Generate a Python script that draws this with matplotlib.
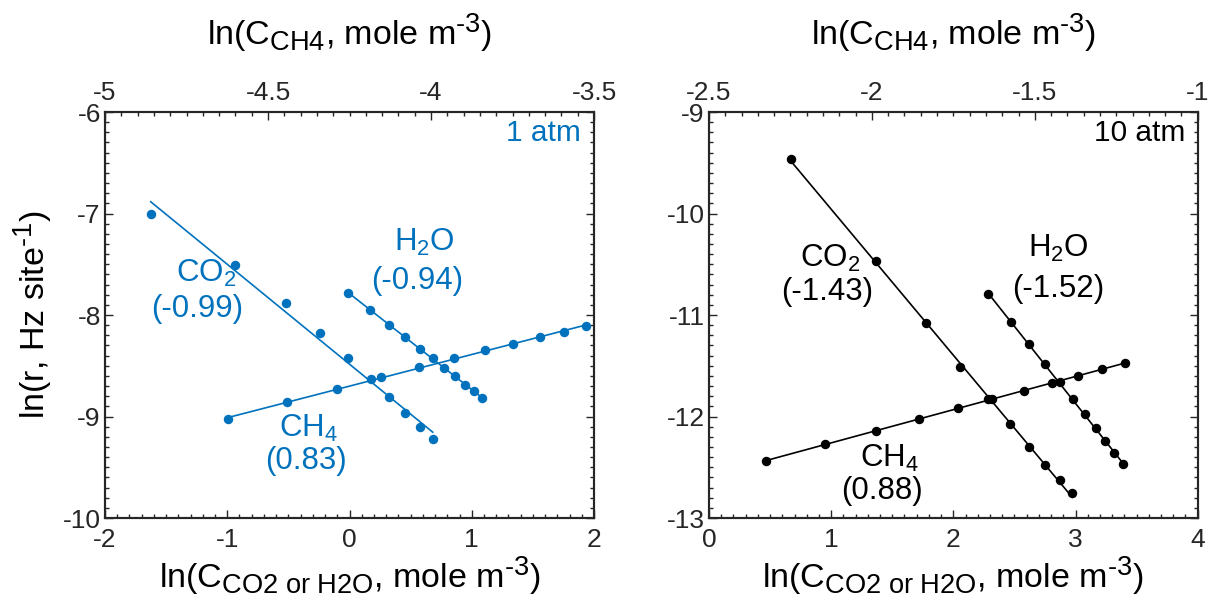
import numpy as np
import matplotlib
matplotlib.use("Agg")
import matplotlib.pyplot as plt
from matplotlib.ticker import MultipleLocator, FuncFormatter
import matplotlib._mathtext as _mt

plt.rcParams['font.family'] = ['Liberation Sans', 'DejaVu Sans']
plt.rcParams['mathtext.fontset'] = 'custom'
plt.rcParams['mathtext.rm'] = 'Liberation Sans'
plt.rcParams['mathtext.it'] = 'Liberation Sans:italic'
plt.rcParams['mathtext.bf'] = 'Liberation Sans:bold'
plt.rcParams['axes.unicode_minus'] = False

# ---------------- data: 1 atm ----------------
co2_1_x = [-1.626, -0.934, -0.519, -0.239, -0.015, 0.173, 0.323, 0.456, 0.579, 0.681]
co2_1_y = [-7.008, -7.510, -7.885, -8.180, -8.427, -8.634, -8.808, -8.968, -9.100, -9.222]
h2o_1_x = [-0.012, 0.170, 0.326, 0.456, 0.577, 0.681, 0.775, 0.865, 0.945, 1.016, 1.086]
h2o_1_y = [-7.780, -7.954, -8.096, -8.220, -8.332, -8.427, -8.519, -8.604, -8.687, -8.752, -8.818]
ch4_1_x = [-4.624, -4.442, -4.287, -4.154, -4.036, -3.930, -3.835, -3.748, -3.667, -3.593, -3.525]
ch4_1_y = [-9.025, -8.860, -8.729, -8.614, -8.515, -8.427, -8.348, -8.283, -8.220, -8.165, -8.105]

# ---------------- data: 10 atm ----------------
co2_10_x = [0.669, 1.367, 1.776, 2.056, 2.286, 2.463, 2.616, 2.752, 2.870, 2.973]
co2_10_y = [-9.466, -10.471, -11.076, -11.509, -11.831, -12.077, -12.298, -12.478, -12.626, -12.757]
h2o_10_x = [2.281, 2.469, 2.619, 2.750, 2.872, 2.979, 3.077, 3.164, 3.243, 3.314, 3.385]
h2o_10_y = [-10.796, -11.066, -11.289, -11.486, -11.663, -11.831, -11.978, -12.116, -12.241, -12.357, -12.471]
ch4_10_x = [-2.325, -2.143, -1.987, -1.855, -1.737, -1.630, -1.534, -1.447, -1.367, -1.294, -1.224]
ch4_10_y = [-12.435, -12.271, -12.140, -12.028, -11.919, -11.831, -11.746, -11.670, -11.598, -11.532, -11.473]

slopes_1 = {'CO2': '(-0.99)', 'H2O': '(-0.94)', 'CH4': '(0.83)'}
slopes_10 = {'CO2': '(-1.43)', 'H2O': '(-1.52)', 'CH4': '(0.88)'}

BLUE = '#0072BD'
BLACK = '#000000'

TICK_FS = 19
LABEL_FS = 24.5
ANN_FS = 22.5

fig = plt.figure(figsize=(12.09, 6.15), dpi=100)

HY = '\u2010'
xlabel_bot = r'ln(C$_{\mathrm{CO2\ or\ H2O}}$, mole m$^{' + HY + r'3}$)'
xlabel_top = r'ln(C$_{\mathrm{CH4}}$, mole m$^{' + HY + r'3}$)'
ylabel = r'ln(r, Hz site$^{' + HY + r'1}$)'


def big_scripts(text_artist, factor=0.8):
    orig = text_artist.draw

    def draw(renderer, _orig=orig):
        old = _mt.SHRINK_FACTOR
        _mt.SHRINK_FACTOR = factor
        try:
            return _orig(renderer)
        finally:
            _mt.SHRINK_FACTOR = old
    text_artist.draw = draw


def fit_line(ax, xs, ys, color):
    xs = np.asarray(xs)
    ys = np.asarray(ys)
    p = np.polyfit(xs, ys, 1)
    xx = np.array([xs.min(), xs.max()])
    ax.plot(xx, np.polyval(p, xx), color=color, lw=1.2, zorder=2)
    ax.plot(xs, ys, 'o', color=color, ms=5.8, zorder=3)


def style(ax, axt, xlim, xtlim, ylim):
    ax.set_xlim(*xlim)
    ax.set_ylim(*ylim)
    axt.set_xlim(*xtlim)
    ax.xaxis.set_major_locator(MultipleLocator(1))
    ax.xaxis.set_minor_locator(MultipleLocator(0.1))
    ax.yaxis.set_major_locator(MultipleLocator(1))
    ax.yaxis.set_minor_locator(MultipleLocator(0.1))
    axt.xaxis.set_major_locator(MultipleLocator(0.5))
    axt.xaxis.set_minor_locator(MultipleLocator(0.05))
    axt.xaxis.set_major_formatter(FuncFormatter(lambda v, p: ('%g' % v)))
    ax.tick_params(which='both', direction='in', top=False, right=True,
                   labelsize=TICK_FS, width=1.0, colors='#262626')
    ax.tick_params(which='major', length=6)
    ax.tick_params(which='minor', length=3)
    ax.tick_params(axis='x', pad=7)
    ax.tick_params(axis='y', pad=3)
    axt.tick_params(which='both', direction='in', labelsize=TICK_FS, width=1.0,
                    colors='#262626', pad=5)
    axt.tick_params(which='major', length=6)
    axt.tick_params(which='minor', length=3)
    for a in (ax, axt):
        for s in a.spines.values():
            s.set_linewidth(1.5)
            s.set_color('#262626')
    ax.set_xlabel(xlabel_bot, fontsize=LABEL_FS, labelpad=2)
    axt.set_xlabel(xlabel_top, fontsize=LABEL_FS, labelpad=26)
    big_scripts(ax.xaxis.label)
    big_scripts(axt.xaxis.label)


# ---------------- left panel ----------------
ax1 = fig.add_axes([0.08685, 0.15772, 0.40447, 0.66016])
ax1t = ax1.twiny()
style(ax1, ax1t, (-2, 2), (-5, -3.5), (-10, -6))
ax1.set_ylabel(ylabel, fontsize=LABEL_FS, labelpad=6)
big_scripts(ax1.yaxis.label)
fit_line(ax1, co2_1_x, co2_1_y, BLUE)
fit_line(ax1, h2o_1_x, h2o_1_y, BLUE)
fit_line(ax1t, ch4_1_x, ch4_1_y, BLUE)

ax1.text(-1.174, -7.586, r'CO$_2$', color=BLUE, fontsize=ANN_FS, ha='center', va='center')
ax1.text(-1.247, -7.94, slopes_1['CO2'], color=BLUE, fontsize=ANN_FS, ha='center', va='center')
ax1.text(0.609, -7.29, r'H$_2$O', color=BLUE, fontsize=ANN_FS, ha='center', va='center')
ax1.text(0.552, -7.665, slopes_1['H2O'], color=BLUE, fontsize=ANN_FS, ha='center', va='center')
ax1.text(-0.339, -9.113, r'CH$_4$', color=BLUE, fontsize=ANN_FS, ha='center', va='center')
ax1.text(-0.356, -9.438, slopes_1['CH4'], color=BLUE, fontsize=ANN_FS, ha='center', va='center')
ax1.text(1.894, -6.207, '1 atm', color=BLUE, fontsize=ANN_FS - 1, ha='right', va='center')

# ---------------- right panel ----------------
ax2 = fig.add_axes([0.58644, 0.15772, 0.40422, 0.66016])
ax2t = ax2.twiny()
style(ax2, ax2t, (0, 4), (-2.5, -1), (-13, -9))
fit_line(ax2, co2_10_x, co2_10_y, BLACK)
fit_line(ax2, h2o_10_x, h2o_10_y, BLACK)
fit_line(ax2t, ch4_10_x, ch4_10_y, BLACK)

ax2.text(0.99, -10.438, r'CO$_2$', color=BLACK, fontsize=ANN_FS, ha='center', va='center')
ax2.text(0.966, -10.773, slopes_10['CO2'], color=BLACK, fontsize=ANN_FS, ha='center', va='center')
ax2.text(2.856, -10.34, r'H$_2$O', color=BLACK, fontsize=ANN_FS, ha='center', va='center')
ax2.text(2.856, -10.744, slopes_10['H2O'], color=BLACK, fontsize=ANN_FS, ha='center', va='center')
ax2.text(1.481, -12.41, r'CH$_4$', color=BLACK, fontsize=ANN_FS, ha='center', va='center')
ax2.text(1.416, -12.734, slopes_10['CH4'], color=BLACK, fontsize=ANN_FS, ha='center', va='center')
ax2.text(3.895, -9.207, '10 atm', color=BLACK, fontsize=ANN_FS - 1, ha='right', va='center')

fig.savefig('out.png', dpi=100)
